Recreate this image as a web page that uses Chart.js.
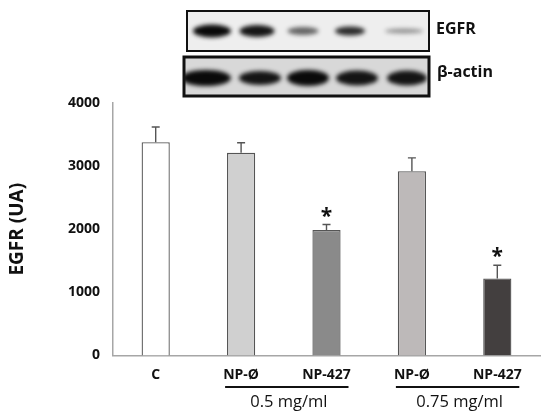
<!DOCTYPE html>
<html><head><meta charset="utf-8">
<script src="https://cdn.jsdelivr.net/npm/chart.js@4"></script>
<style>html,body{margin:0;padding:0;background:#fff}#wrap{width:550px;height:418px;position:relative}</style>
</head><body><div id="wrap"><canvas id="c" width="550" height="418"></canvas></div>
<script>
const categories = ["C", "NP-Ø", "NP-427", "NP-Ø", "NP-427"];
const values = [3380, 3210, 1990, 2920, 1220];
const errors = [240, 160, 85, 210, 210];
const significance = ["", "", "*", "", "*"];
const barColors = ["#ffffff", "#d0d0d0", "#8a8a8a", "#bdb9b9", "#433f3f"];
const groupLabels = ["0.5 mg/ml", "0.75 mg/ml"];
const groupMembers = [[1, 2], [3, 4]];
const yTicks = [0, 1000, 2000, 3000, 4000];
const blotEGFR = [1.0, 0.95, 0.6, 0.85, 0.4];
const blotActin = [1.0, 0.95, 1.0, 0.95, 0.95];

const FONT = "'Open Sans', 'DejaVu Sans', sans-serif";

const extras = {
  id: 'extras',
  afterDatasetsDraw(chart) {
    const ctx = chart.ctx, x = chart.scales.x, y = chart.scales.y;
    ctx.save();
    ctx.strokeStyle = '#555'; ctx.lineWidth = 1.4;
    values.forEach((v, i) => {
      const px = x.getPixelForValue(i);
      const top = y.getPixelForValue(v), et = y.getPixelForValue(v + errors[i]);
      ctx.beginPath(); ctx.moveTo(px, top); ctx.lineTo(px, et);
      ctx.moveTo(px - 4, et); ctx.lineTo(px + 4, et); ctx.stroke();
      if (significance[i]) {
        ctx.fillStyle = '#111'; ctx.font = 'bold 21px ' + FONT;
        ctx.textAlign = 'center'; ctx.textBaseline = 'middle';
        ctx.fillText(significance[i], px, et - 8);
      }
    });
    ctx.strokeStyle = '#111'; ctx.lineWidth = 2.2; ctx.fillStyle = '#111';
    ctx.font = '16.5px ' + FONT; ctx.textAlign = 'center'; ctx.textBaseline = 'middle';
    groupMembers.forEach((g, k) => {
      const a = x.getPixelForValue(g[0]), b = x.getPixelForValue(g[1]);
      const l = a - 16, r = b + 22;
      ctx.beginPath(); ctx.moveTo(l, 387); ctx.lineTo(r, 387); ctx.stroke();
      ctx.fillText(groupLabels[k], (l + r) / 2 + 2, 402);
    });
    ctx.restore();
  },
  beforeDraw(chart) {
    const ctx = chart.ctx;
    ctx.save();
    function box(x0, y0, w, h, bw, bg, lanes, cy, sizes, alphaArr) {
      ctx.fillStyle = bg; ctx.fillRect(x0, y0, w, h);
      ctx.save();
      ctx.beginPath(); ctx.rect(x0, y0, w, h); ctx.clip();
      ctx.filter = 'blur(2px)';
      lanes.forEach((lx, i) => {
        ctx.fillStyle = 'rgba(10,10,10,' + alphaArr[i] + ')';
        ctx.beginPath();
        ctx.ellipse(lx, cy, sizes[i][0] / 2, sizes[i][1] / 2, 0, 0, Math.PI * 2);
        ctx.fill();
      });
      ctx.restore();
      ctx.strokeStyle = '#111'; ctx.lineWidth = bw;
      ctx.strokeRect(x0, y0, w, h);
    }
    box(187, 11, 242, 40, 2, '#eeeeee',
      [212, 257, 303, 350, 404], 31,
      [[38, 13], [35, 12], [31, 8], [30, 9], [38, 5]], blotEGFR);
    box(184, 57, 245, 39, 3, '#d8d8d8',
      [206, 260, 308, 357, 407], 78,
      [[50, 16], [42, 14], [42, 16], [42, 15], [40, 15]], blotActin);
    ctx.fillStyle = '#111'; ctx.font = 'bold 16px ' + FONT;
    ctx.textAlign = 'left'; ctx.textBaseline = 'middle';
    ctx.fillText('EGFR', 436, 29);
    ctx.fillText('β-actin', 437, 72);
    ctx.restore();
  }
};

new Chart(document.getElementById('c'), {
  type: 'bar',
  data: {
    labels: categories,
    datasets: [{
      data: values,
      backgroundColor: barColors,
      borderColor: '#555',
      borderWidth: 1.3,
      barPercentage: 0.33,
      categoryPercentage: 1.0
    }]
  },
  options: {
    responsive: false,
    animation: false,
    devicePixelRatio: 1,
    layout: { padding: { top: 103, right: 10, left: 0, bottom: 0 } },
    plugins: { legend: { display: false }, tooltip: { enabled: false } },
    scales: {
      x: {
        grid: { display: false, drawTicks: false },
        border: { display: true, color: '#a6a6a6', width: 1.5 },
        ticks: { color: '#111', font: { family: FONT, weight: 'bold', size: 14 }, padding: 11, maxRotation: 0 },
        afterFit(s) { s.height = 62.5; }
      },
      y: {
        min: 0, max: 4000,
        afterBuildTicks(s) { s.ticks = yTicks.map(v => ({ value: v })); },
        grid: { display: false, drawTicks: false },
        border: { display: true, color: '#a6a6a6', width: 1.5 },
        ticks: { color: '#111', font: { family: FONT, weight: 'bold', size: 14 }, padding: 13, callback: v => String(v) },
        title: { display: true, text: 'EGFR (UA)', color: '#111', font: { family: FONT, weight: 'bold', size: 19 }, padding: { top: 6, bottom: 0 } },
        afterFit(s) { s.width = 113; }
      }
    }
  },
  plugins: [extras]
});
</script></body></html>
